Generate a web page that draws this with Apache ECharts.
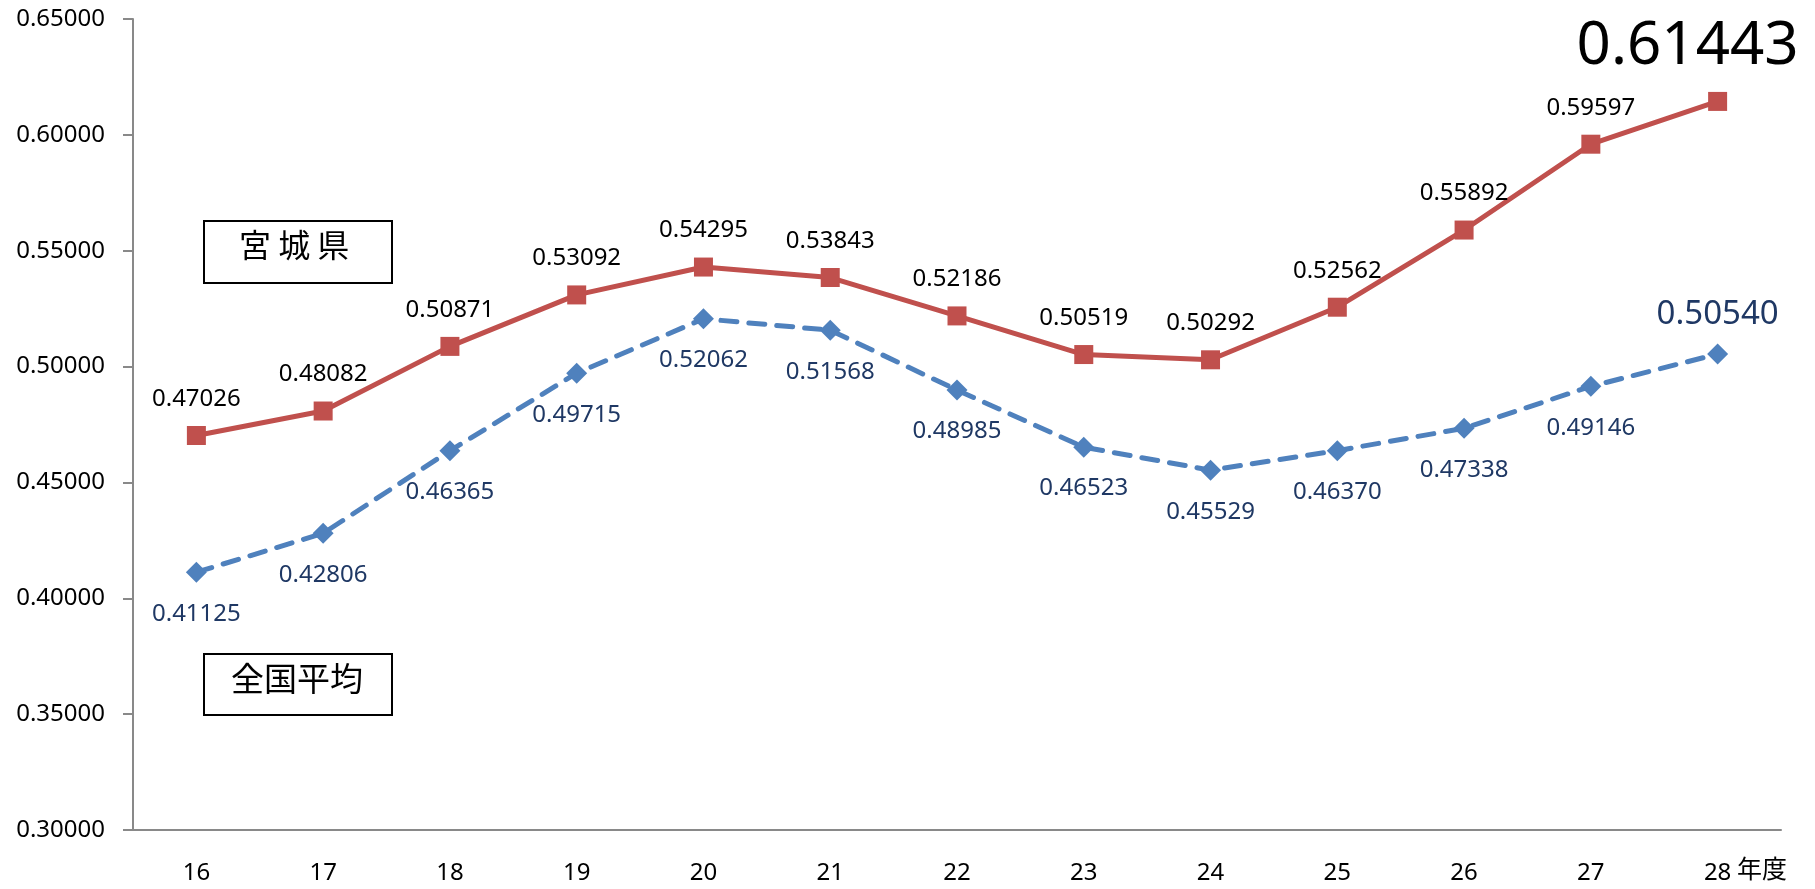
<!DOCTYPE html>
<html>
<head>
<meta charset="utf-8">
<script src="https://cdn.jsdelivr.net/npm/echarts@6/dist/echarts.min.js"></script>
<style>
  html, body { margin: 0; padding: 0; background: #fff; }
  #chart { width: 1815px; height: 889px; }
</style>
</head>
<body>
<div id="chart"></div>
<script>
// 年度
const years = ['16', '17', '18', '19', '20', '21', '22', '23', '24', '25', '26', '27', '28'];
// 宮城県
const miyagi = [0.47026, 0.48082, 0.50871, 0.53092, 0.54295, 0.53843, 0.52186, 0.50519, 0.50292, 0.52562, 0.55892, 0.59597, 0.61443];
// 全国平均
const national = [0.41125, 0.42806, 0.46365, 0.49715, 0.52062, 0.51568, 0.48985, 0.46523, 0.45529, 0.46370, 0.47338, 0.49146, 0.50540];
const yTicks = [0.30, 0.35, 0.40, 0.45, 0.50, 0.55, 0.60, 0.65];

const numFont = "'Noto Sans', 'Open Sans', sans-serif";
const jpFont = "'Noto Sans CJK JP', sans-serif";
const axisColor = '#898989';
const red = '#c0504d';
const blue = '#4f81bd';
const blueText = '#1f3864';

const last = years.length - 1;

let miyagiData = miyagi.map((v, i) => {
  if (i == last) {
    return {
      value: v,
      label: { fontSize: 60, offset: [-30, 0] }
    };
  }
  return v;
});

let nationalData = national.map((v, i) => {
  if (i == last) {
    return {
      value: v,
      label: { position: 'top', fontSize: 33, distance: 12 }
    };
  }
  return v;
});

let option = {
  backgroundColor: '#fff',
  animation: false,
  grid: {
    left: 133,
    right: 34,
    top: 19,
    bottom: 59
  },
  xAxis: {
    type: 'category',
    data: years,
    boundaryGap: true,
    axisLine: { lineStyle: { color: axisColor, width: 2 } },
    axisTick: { length: 9, lineStyle: { color: axisColor, width: 2 } },
    axisLabel: {
      color: '#000',
      fontFamily: numFont,
      fontSize: 24,
      margin: 31
    }
  },
  yAxis: {
    type: 'value',
    min: yTicks[0],
    max: yTicks[yTicks.length - 1],
    interval: 0.05,
    splitLine: { show: false },
    axisLine: { show: true, lineStyle: { color: axisColor, width: 2 } },
    axisTick: { show: true, length: 10, lineStyle: { color: axisColor, width: 2 } },
    axisLabel: {
      color: '#000',
      fontFamily: numFont,
      fontSize: 24,
      margin: 28,
      formatter: v => v.toFixed(5)
    }
  },
  series: [
    {
      name: '宮城県',
      type: 'line',
      data: miyagiData,
      symbol: 'rect',
      symbolSize: 19,
      itemStyle: { color: red },
      lineStyle: { color: red, width: 5 },
      label: {
        show: true,
        position: 'top',
        distance: 15,
        color: '#000',
        fontFamily: numFont,
        fontSize: 24,
        formatter: p => p.value.toFixed(5)
      },
      z: 3
    },
    {
      name: '全国平均',
      type: 'line',
      data: nationalData,
      symbol: 'diamond',
      symbolSize: 21,
      itemStyle: { color: blue },
      lineStyle: { color: blue, width: 5, type: [16, 12], cap: 'round' },
      label: {
        show: true,
        position: 'bottom',
        distance: 19,
        color: blueText,
        fontFamily: numFont,
        fontSize: 24,
        formatter: p => p.value.toFixed(5)
      },
      z: 2
    }
  ],
  graphic: [
    {
      type: 'rect',
      left: 203, top: 220,
      shape: { width: 188, height: 62 },
      style: { fill: '#fff', stroke: '#000', lineWidth: 2 }
    },
    {
      type: 'text',
      left: 239, top: 229,
      style: { text: '宮 城 県', font: "32px " + jpFont, fill: '#000' }
    },
    {
      type: 'rect',
      left: 203, top: 653,
      shape: { width: 188, height: 61 },
      style: { fill: '#fff', stroke: '#000', lineWidth: 2 }
    },
    {
      type: 'text',
      left: 231, top: 662,
      style: { text: '全国平均', font: "33px " + jpFont, fill: '#000' }
    },
    {
      type: 'text',
      left: 1737, top: 856,
      style: { text: '年度', font: "25px " + jpFont, fill: '#000' }
    }
  ]
};

let chart = echarts.init(document.getElementById('chart'));
chart.setOption(option);
</script>
</body>
</html>
